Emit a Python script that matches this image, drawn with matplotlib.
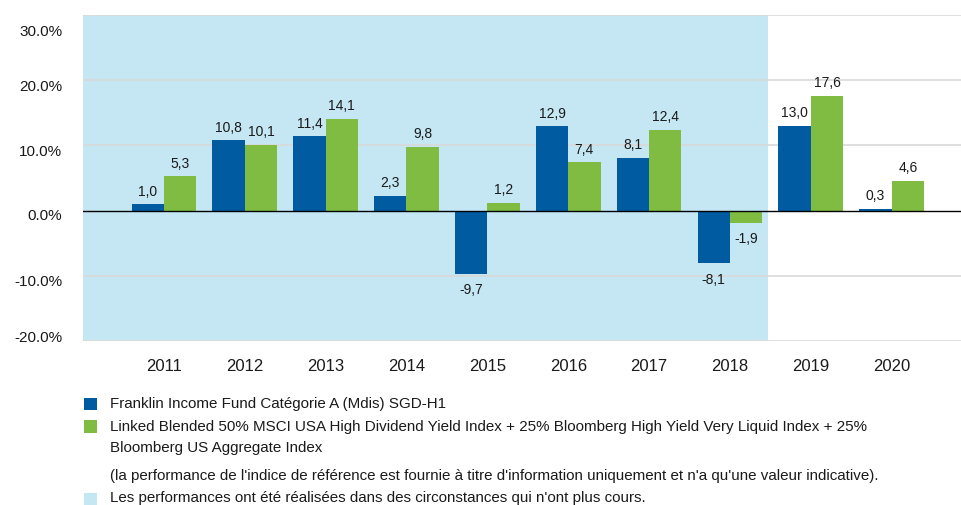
import matplotlib
matplotlib.use('Agg')
import matplotlib.pyplot as plt
import matplotlib.transforms as mtransforms
from matplotlib.patches import Rectangle
import numpy as np

years = ['2011', '2012', '2013', '2014', '2015', '2016', '2017', '2018', '2019', '2020']
fund = [1.0, 10.8, 11.4, 2.3, -9.7, 12.9, 8.1, -8.1, 13.0, 0.3]
bench = [5.3, 10.1, 14.1, 9.8, 1.2, 7.4, 12.4, -1.9, 17.6, 4.6]
y_ticks = [-20, -10, 0, 10, 20, 30]

fund_label = 'Franklin Income Fund Catégorie A (Mdis) SGD-H1'
bench_label_1 = ('Linked Blended 50% MSCI USA High Dividend Yield Index + 25% '
                 'Bloomberg High Yield Very Liquid Index + 25%')
bench_label_2 = 'Bloomberg US Aggregate Index'
note_text = ("(la performance de l'indice de référence est fournie à titre "
             "d'information uniquement et n'a qu'une valeur indicative).")
shade_label = "Les performances ont été réalisées dans des circonstances qui n'ont plus cours."

BLUE = '#005BA1'
GREEN = '#80BC41'
SHADE = '#C5E7F3'
GRID = '#D9D9D9'
TXT = '#1a1a1a'

FONT = ['Liberation Sans', 'DejaVu Sans']

fig = plt.figure(figsize=(9.62, 5.06), dpi=100)
ax = fig.add_axes([83 / 962, 1 - 342 / 506, 1 - 83 / 962, (342 - 16) / 506])

x = np.arange(len(years))
w = 0.4

# shaded region for past-circumstances years
ax.axvspan(-1.0, 7.47, color=SHADE, zorder=0, lw=0)

for yt in y_ticks:
    if yt != 0:
        ax.axhline(yt, color=GRID, lw=1.2, zorder=1)

ax.bar(x - w / 2, fund, width=w, color=BLUE, zorder=2)
ax.bar(x + w / 2, bench, width=w, color=GREEN, zorder=2)
ax.axhline(0, color='black', lw=1.0, zorder=3)

def fmt(v):
    return f'{v:.1f}'.replace('.', ',')

for xs, vals in ((x - w / 2, fund), (x + w / 2, bench)):
    for xi, v in zip(xs, vals):
        va = 'bottom' if v >= 0 else 'top'
        off = 1.0 if v >= 0 else -1.3
        ax.text(xi, v + off, fmt(v), ha='center', va=va, fontsize=10,
                family=FONT, color=TXT)

ax.set_xlim(-1.0, 9.87)
ax.set_ylim(-20, 30)
ax.set_xticks(x)
ax.set_xticklabels(years, fontsize=12, family=FONT, color=TXT)
ax.set_yticks(y_ticks)
ax.set_yticklabels([f'{t:.1f}%' for t in y_ticks], fontsize=11, family=FONT, color=TXT)
ax.tick_params(axis='both', length=0)
ax.tick_params(axis='x', pad=12)
ax.tick_params(axis='y', pad=15)
for s in ax.spines.values():
    s.set_visible(False)

# the original tick labels sit a bit below their gridlines, top/bottom pulled inward
label_shift_px = [6, -4, -3, -4, -4.5, -15]
for lab, dy in zip(ax.get_yticklabels(), label_shift_px):
    lab.set_transform(lab.get_transform() +
                      mtransforms.ScaledTranslation(0, dy / 100, fig.dpi_scale_trans))

# legend drawn manually at the bottom
def square(y_top, color):
    fig.patches.append(Rectangle((84 / 962, 1 - (y_top + 12.5) / 506), 13 / 962, 12.5 / 506,
                                 transform=fig.transFigure, color=color, lw=0))

def line(y, s):
    fig.text(110 / 962, 1 - y / 506, s, ha='left', va='center', fontsize=10.9,
             family=FONT, color=TXT)

square(398.5, BLUE)
line(404, fund_label)
square(421, GREEN)
line(427, bench_label_1)
line(448, bench_label_2)
line(476, note_text)
square(494, SHADE)
line(498, shade_label)

fig.savefig('out.png', dpi=100, facecolor='white')
